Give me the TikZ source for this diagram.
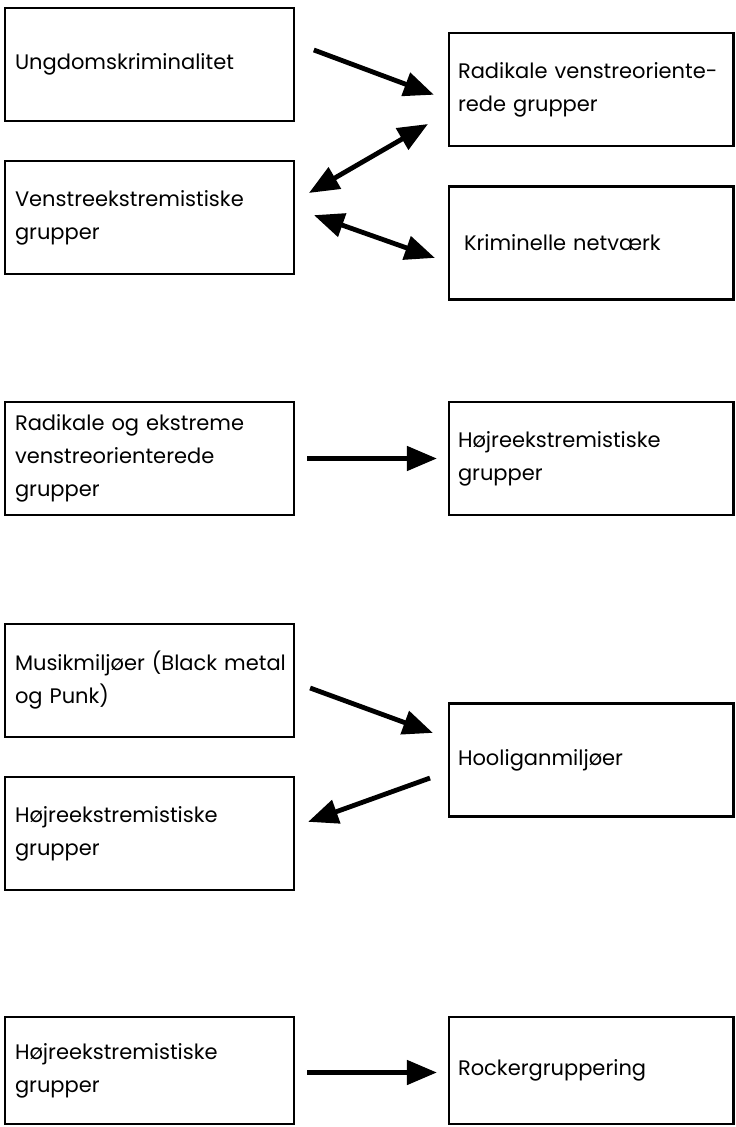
\documentclass[tikz,border=0pt]{standalone}
\usepackage{fontspec}
\setmainfont{Poppins}
\usetikzlibrary{arrows.meta}

\begin{document}
\begin{tikzpicture}[x=0.5pt, y=-0.5pt,
  venstreboks/.style={rectangle, draw, line width=1.1pt, align=left,
    text width=134.5pt, inner xsep=5pt, minimum height=56.5pt,
    font=\fontsize{10.5}{16.5}\selectfont},
  hoejreboks/.style={venstreboks, text width=133.25pt, inner xsep=4.5pt},
  pil/.style={-{Triangle[length=15pt,width=12pt]}, line width=2.4pt},
  dobbeltpil/.style={{Triangle[length=15pt,width=12pt]}-{Triangle[length=15pt,width=12pt]},
    line width=2.4pt}]

\useasboundingbox (0,0) rectangle (735,1127);

% venstreorienterede
\node[venstreboks] (ungdom) at (149.5, 64.5) {Ungdomskriminalitet};
\node[hoejreboks] (radikal) at (591.25, 89.5) {Radikale venstreoriente-\\rede grupper};
\node[venstreboks] (venstre) at (149.5, 217.5) {Venstreekstremistiske\\grupper};
\node[hoejreboks] (krim) at (591.25, 243) {\hspace{3pt}Kriminelle netværk};

\draw[pil, shorten <=10pt, shorten >=7.5pt]
  ([yshift=10.75pt]ungdom.east) -- ([yshift=-5.25pt]radikal.west);
\draw[dobbeltpil, shorten <=11.5pt, shorten >=8pt]
  ([yshift=-11.5pt]radikal.west) -- ([yshift=8.25pt]venstre.east);
\draw[dobbeltpil, shorten <=10pt, shorten >=6.9pt]
  ([yshift=4.5pt]venstre.east) -- ([yshift=-9.75pt]krim.west);

% fra venstre til hoejre
\node[venstreboks] (radekstrem) at (149.5, 458.5)
  {Radikale og ekstreme\\venstreorienterede\\grupper};
\node[hoejreboks] (hoejreA) at (591.25, 458.5) {Højreekstremistiske\\grupper};

\draw[pil, shorten <=6pt, shorten >=5.5pt] (radekstrem.east) -- (hoejreA.west);

% musik og hooligans
\node[venstreboks] (musik) at (149.5, 680.5) {\mbox{Musikmiljøer (Black metal}\\og Punk)};
\node[hoejreboks] (hooligan) at (591.25, 760) {Hooliganmiljøer};
\node[venstreboks] (hoejreB) at (149.5, 833.5) {Højreekstremistiske\\grupper};

\draw[pil, shorten <=8pt, shorten >=8pt]
  ([yshift=-1pt]musik.east) -- ([yshift=10.8pt]hooligan.west);
\draw[pil, shorten <=9.5pt, shorten >=6.9pt]
  ([yshift=-5.8pt]hooligan.west) -- ([yshift=3.5pt]hoejreB.east);

% rockere
\node[venstreboks, minimum height=53.5pt] (hoejreC) at (149.5, 1070.5)
  {Højreekstremistiske\\grupper};
\node[hoejreboks, minimum height=53.5pt] (rocker) at (591.25, 1070.5) {Rockergruppering};

\draw[pil, shorten <=6pt, shorten >=5.5pt]
  ([yshift=-1pt]hoejreC.east) -- ([yshift=-1pt]rocker.west);

\end{tikzpicture}
\end{document}
